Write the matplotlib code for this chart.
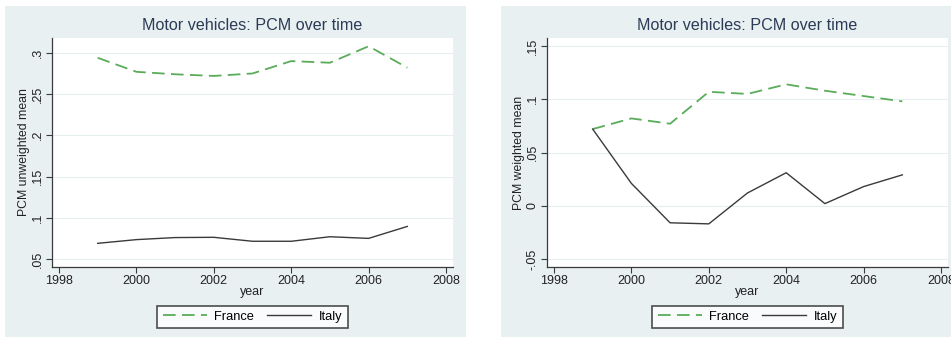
import matplotlib.pyplot as plt
from matplotlib.patches import Rectangle

plt.rcParams['font.family'] = ['Liberation Sans', 'DejaVu Sans']

years = [1999, 2000, 2001, 2002, 2003, 2004, 2005, 2006, 2007]

# PCM unweighted mean
france_unw = [0.294, 0.277, 0.274, 0.272, 0.275, 0.290, 0.288, 0.308, 0.282]
italy_unw = [0.069, 0.0735, 0.076, 0.0763, 0.0715, 0.0715, 0.077, 0.075, 0.0895]

# PCM weighted mean
france_w = [0.072, 0.082, 0.077, 0.107, 0.105, 0.114, 0.108, 0.103, 0.098]
italy_w = [0.072, 0.021, -0.016, -0.017, 0.012, 0.031, 0.002, 0.018, 0.029]

xticks = [1998, 2000, 2002, 2004, 2006, 2008]
yticks_unw = [0.05, 0.1, 0.15, 0.2, 0.25, 0.3]
ylabels_unw = ['.05', '.1', '.15', '.2', '.25', '.3']
yticks_w = [-0.05, 0, 0.05, 0.1, 0.15]
ylabels_w = ['-.05', '0', '.05', '.1', '.15']

W, H = 951, 338
bg = '#e8f0f2'
green = '#5aac5a'
dark = '#3a3a3a'
title_col = '#2b3a55'

fig = plt.figure(figsize=(W / 100, H / 100), dpi=100, facecolor='white')

# light panel backgrounds (stata style), kept behind the axes
fig.add_artist(Rectangle((5 / W, 1 - 337 / H), 461 / W, 331 / H,
                         transform=fig.transFigure, facecolor=bg, edgecolor='none', zorder=-5))
fig.add_artist(Rectangle((501 / W, 1 - 337 / H), 460 / W, 331 / H,
                         transform=fig.transFigure, facecolor=bg, edgecolor='none', zorder=-5))


def panel(left, fr, it, yticks, ylabels, ylim, ylabel):
    ax = fig.add_axes([left / W, 1 - 267 / H, 401 / W, 229 / H])
    ax.set_facecolor('white')
    for y in yticks:
        ax.axhline(y, color='#e6eef0', lw=0.8, zorder=1)
    ax.plot(years, fr, color=green, lw=1.3, dashes=(7, 3.5), label='France', zorder=3)
    ax.plot(years, it, color=dark, lw=1.0, label='Italy', zorder=3)
    ax.set_xlim(1997.82, 2008.18)
    ax.set_ylim(*ylim)
    ax.set_xticks(xticks)
    ax.set_yticks(yticks)
    ax.set_yticklabels(ylabels, rotation=90, va='center')
    ax.spines['top'].set_visible(False)
    ax.spines['right'].set_visible(False)
    for s in ('left', 'bottom'):
        ax.spines[s].set_color(dark)
        ax.spines[s].set_linewidth(0.9)
    ax.tick_params(direction='out', length=4, width=0.8, color=dark,
                   labelsize=9, labelcolor='#222222', pad=2)
    ax.set_xlabel('year', fontsize=9, color='#222222', labelpad=-1)
    ax.set_ylabel(ylabel, fontsize=8.8, color='#222222', labelpad=1)
    ax.set_title('Motor vehicles: PCM over time', fontsize=11.6, color=title_col, pad=6)
    leg = ax.legend(loc='upper center', bbox_to_anchor=(0.5, -0.14), ncol=2,
                    fontsize=9.3, frameon=True, fancybox=False, handlelength=3.4,
                    columnspacing=1.0, borderpad=0.4, handletextpad=0.6)
    leg.get_frame().set_edgecolor('#222222')
    leg.get_frame().set_linewidth(1.2)
    return ax


panel(52, france_unw, italy_unw, yticks_unw, ylabels_unw, (0.0403, 0.318), 'PCM unweighted mean')
panel(547, france_w, italy_w, yticks_w, ylabels_w, (-0.0575, 0.1575), 'PCM weighted mean')

fig.savefig('out.png', dpi=100, facecolor='white')
